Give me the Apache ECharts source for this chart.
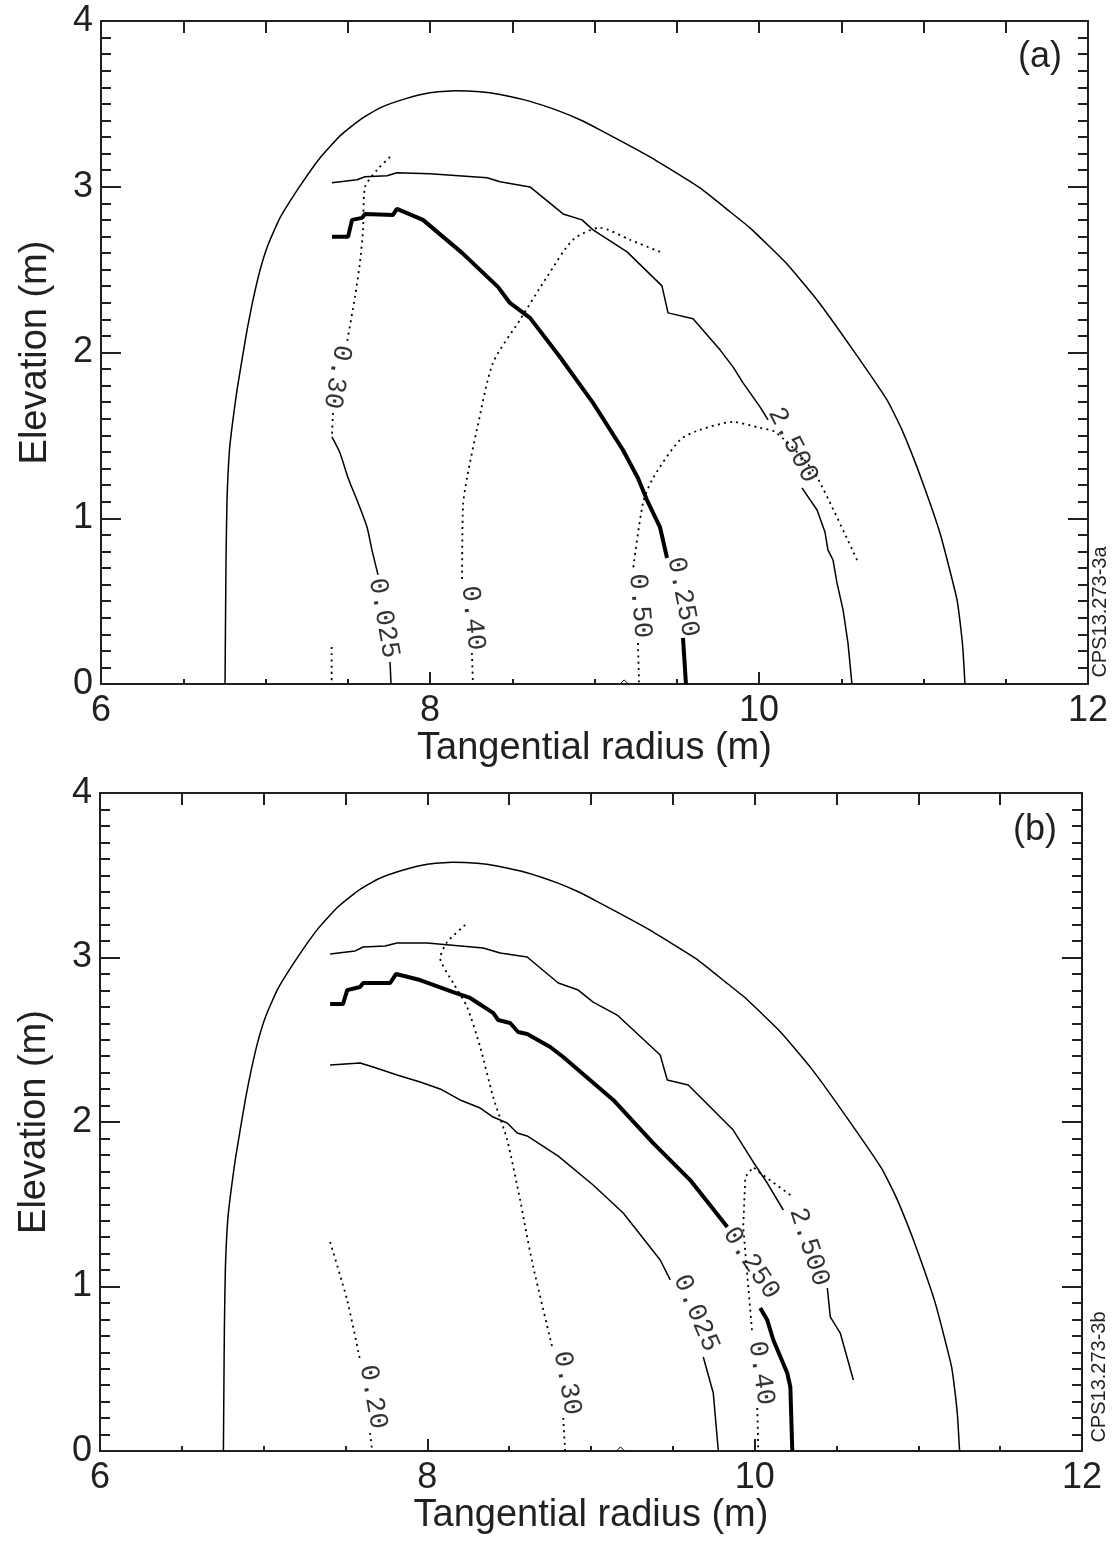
<!DOCTYPE html>
<html>
<head>
<meta charset="utf-8">
<script src="https://cdn.jsdelivr.net/npm/echarts@6/dist/echarts.min.js"></script>
<style>
  html, body { margin: 0; padding: 0; background: #fff; }
  #chart { width: 1120px; height: 1551px; }
</style>
</head>
<body>
<div id="chart"></div>
<script>
// axis ticks
const xTicks = [6, 8, 10, 12]
const yTicks = [0, 1, 2, 3, 4]

// outer envelope (same in both panels)
const envelope = [[6.754, 0], [6.757, 0.386], [6.760, 0.748], [6.766, 1.110], [6.781, 1.412], [6.802, 1.593],
  [6.827, 1.774], [6.857, 1.955], [6.888, 2.136], [6.924, 2.317], [6.967, 2.498], [7.015, 2.649], [7.088, 2.812],
  [7.210, 3.005], [7.331, 3.174], [7.453, 3.307], [7.574, 3.404], [7.696, 3.476], [7.848, 3.530], [8.000, 3.567],
  [8.152, 3.579], [8.304, 3.573], [8.426, 3.556], [8.608, 3.515], [8.790, 3.455], [8.912, 3.404], [9.033, 3.343],
  [9.337, 3.180], [9.641, 2.993], [9.824, 2.849], [9.945, 2.752], [10.158, 2.547], [10.353, 2.317], [10.571, 2.016],
  [10.778, 1.714], [10.869, 1.533], [10.960, 1.310], [11.033, 1.110], [11.100, 0.911], [11.155, 0.706],
  [11.204, 0.507], [11.228, 0.326], [11.240, 0.205], [11.252, 0]]

// panel (a) contours; null = break where the contour label sits
const a2500 = [[7.404, 3.024], [7.556, 3.042], [7.605, 3.060], [7.739, 3.066], [7.799, 3.084], [8.000, 3.078],
  [8.347, 3.054], [8.426, 3.030], [8.608, 2.999], [8.809, 2.836], [8.924, 2.800], [8.991, 2.740], [9.198, 2.607],
  [9.410, 2.402], [9.447, 2.239], [9.599, 2.203], [9.763, 2.016], [9.842, 1.913], [9.903, 1.817], [10.006, 1.672],
  [10.055, 1.593], null, [10.261, 1.183], [10.353, 1.050], [10.401, 0.917], [10.419, 0.809], [10.450, 0.748],
  [10.474, 0.610], [10.511, 0.447], [10.541, 0.247], [10.565, 0]]
const a0250 = [[7.404, 2.698], [7.502, 2.698], [7.526, 2.800], [7.587, 2.812], [7.605, 2.836], [7.775, 2.830],
  [7.799, 2.867], [7.957, 2.800], [8.195, 2.601], [8.413, 2.396], [8.486, 2.299], [8.608, 2.209], [8.790, 1.973],
  [8.991, 1.696], [9.173, 1.412], [9.264, 1.243], [9.319, 1.110], [9.398, 0.947], [9.441, 0.760], null,
  [9.538, 0.278], [9.556, 0]]
const a0025 = [[7.404, 1.491], [7.453, 1.394], [7.502, 1.243], [7.556, 1.110], [7.617, 0.947], [7.647, 0.809],
  [7.684, 0.658], null, [7.757, 0.133], [7.763, 0]]
const a030 = [[7.757, 3.180], [7.678, 3.102], [7.605, 2.999], [7.593, 2.740], [7.574, 2.541], [7.544, 2.336],
  [7.495, 2.058], null, [7.410, 1.635], [7.404, 1.503], null, [7.402, 0.223], [7.402, 0]]
const a040 = [[9.398, 2.607], [9.216, 2.680], [9.033, 2.752], [8.869, 2.680], [8.711, 2.456], [8.547, 2.197],
  [8.383, 1.937], [8.286, 1.539], [8.225, 1.243], [8.201, 1.080], [8.195, 0.628], null, [8.255, 0.187], [8.261, 0]]
const a050 = [[10.596, 0.748], [10.353, 1.249], [10.249, 1.382], [10.097, 1.521], [10.006, 1.545], [9.842, 1.581],
  [9.641, 1.533], [9.520, 1.473], [9.356, 1.243], [9.295, 1.092], [9.234, 0.688], null, [9.264, 0.247], [9.271, 0]]
const aNotch = [[9.155, 0], [9.180, 0.025], [9.205, 0]]
const aLabels = [[7.435, 1.853, '0.30'], [7.720, 0.398, '0.025'], [8.261, 0.398, '0.40'],
  [9.277, 0.471, '0.50'], [9.538, 0.525, '0.250'], [10.207, 1.442, '2.500']]
const aLabelTilt = [-100, -80, -84, -85, -79, -63]

// panel (b) contours
const b2500 = [[7.406, 3.021], [7.559, 3.040], [7.608, 3.064], [7.742, 3.070], [7.815, 3.088], [7.999, 3.088],
  [8.341, 3.058], [8.445, 3.027], [8.610, 3.003], [8.800, 2.845], [8.922, 2.802], [9.013, 2.729], [9.160, 2.650],
  [9.423, 2.407], [9.466, 2.255], [9.594, 2.225], [9.686, 2.134], [9.869, 1.951], [9.991, 1.757], [10.077, 1.629],
  [10.175, 1.465], null, [10.444, 0.991], [10.462, 0.815], [10.523, 0.717], [10.603, 0.432]]
const b0250 = [[7.406, 2.717], [7.485, 2.717], [7.510, 2.802], [7.589, 2.821], [7.608, 2.845], [7.773, 2.845],
  [7.809, 2.900], [7.956, 2.863], [8.158, 2.790], [8.262, 2.754], [8.402, 2.663], [8.433, 2.620], [8.506, 2.602],
  [8.555, 2.547], [8.610, 2.535], [8.751, 2.456], [8.830, 2.395], [9.136, 2.134], [9.380, 1.872], [9.606, 1.647],
  [9.833, 1.362], null, [10.034, 0.869], [10.077, 0.796], [10.114, 0.675], [10.199, 0.474], [10.218, 0.389], [10.230, 0]]
const b0025 = [[7.406, 2.347], [7.589, 2.359], [7.669, 2.334], [7.815, 2.286], [7.956, 2.243], [8.078, 2.201],
  [8.200, 2.134], [8.323, 2.085], [8.402, 2.030], [8.488, 1.994], [8.549, 1.933], [8.610, 1.915], [8.800, 1.793],
  [9.013, 1.617], [9.197, 1.447], [9.423, 1.161], [9.484, 1.040], null, [9.686, 0.571], [9.747, 0.353], [9.778, 0]]
const b030 = [[8.231, 3.198], [8.121, 3.094], [8.078, 2.997], [8.158, 2.845], [8.243, 2.699], [8.323, 2.456],
  [8.402, 2.152], [8.488, 1.891], [8.567, 1.526], [8.598, 1.362], [8.647, 1.119], [8.763, 0.632], null,
  [8.830, 0.201], [8.842, 0]]
const b020 = [[7.406, 1.271], [7.510, 0.918], [7.589, 0.553], null, [7.650, 0.109], [7.663, 0]]
const b040 = [[10.218, 1.556], [10.034, 1.690], [9.991, 1.726], [9.943, 1.666], [9.930, 1.362], [9.961, 0.997],
  [9.985, 0.717], null, [10.016, 0.261], [10.022, 0]]
const bNotch = [[9.155, 0], [9.180, 0.025], [9.205, 0]]
const bLabels = [[7.669, 0.328, '0.20'], [8.855, 0.413, '0.30'], [9.643, 0.839, '0.025'],
  [9.979, 1.143, '0.250'], [10.040, 0.474, '0.40'], [10.334, 1.240, '2.500']]
const bLabelTilt = [-80, -80, -67, -56, -82, -72]

const AX = '#231f20'
const FONT = 'Liberation Sans'
const THIN = { color: '#000', width: 1.5 }
const THICK = { color: '#000', width: 4 }
const DOT = { color: '#000', width: 1.8, type: [2, 4.2] }

// split a point list on null into separate polylines
function segments(pts) {
  const out = [[]]
  pts.forEach((p) => { if (p === null) out.push([]); else out[out.length - 1].push(p) })
  return out.filter((s) => s.length > 1)
}

const chart = echarts.init(document.getElementById('chart'))

const grids = [
  { left: 101, top: 21, width: 987, height: 663 },
  { left: 100, top: 793, width: 982, height: 658 },
]

const xAxis = []
const yAxis = []
const series = []

grids.forEach((g, i) => {
  const line = { show: true, onZero: false, lineStyle: { color: AX, width: 2 } }
  xAxis.push({
    gridIndex: i, type: 'value', position: 'bottom',
    min: xTicks[0], max: xTicks[xTicks.length - 1], interval: xTicks[1] - xTicks[0],
    axisLine: line,
    axisTick: { show: true, inside: true, length: 12, lineStyle: { color: AX, width: 2 } },
    minorTick: { show: true, splitNumber: 4, length: 5, lineStyle: { color: AX, width: 2 } },
    splitLine: { show: false },
    axisLabel: { color: AX, fontSize: 36, fontFamily: FONT, margin: 9 },
    name: 'Tangential radius (m)', nameLocation: 'middle', nameGap: 44,
    nameTextStyle: { color: AX, fontSize: 38, fontFamily: FONT },
  })
  xAxis.push({
    gridIndex: i, type: 'value', position: 'top',
    min: xTicks[0], max: xTicks[xTicks.length - 1], interval: 0.5,
    axisLine: line,
    axisTick: { show: true, inside: true, length: 12, lineStyle: { color: AX, width: 2 } },
    splitLine: { show: false },
    axisLabel: { show: false },
  })
  yAxis.push({
    gridIndex: i, type: 'value', position: 'left',
    min: yTicks[0], max: yTicks[yTicks.length - 1], interval: yTicks[1] - yTicks[0],
    axisLine: line,
    axisTick: { show: true, inside: true, length: 20, lineStyle: { color: AX, width: 2 } },
    minorTick: { show: true, splitNumber: 10, length: 10, lineStyle: { color: AX, width: 2 } },
    splitLine: { show: false },
    axisLabel: { color: AX, fontSize: 36, fontFamily: FONT, margin: 8 },
    name: 'Elevation (m)', nameLocation: 'middle', nameGap: 46, nameRotate: 90,
    nameTextStyle: { color: AX, fontSize: 38, fontFamily: FONT },
  })
  yAxis.push({
    gridIndex: i, type: 'value', position: 'right',
    min: yTicks[0], max: yTicks[yTicks.length - 1], interval: yTicks[1] - yTicks[0],
    axisLine: line,
    axisTick: { show: true, inside: true, length: 20, lineStyle: { color: AX, width: 2 } },
    minorTick: { show: true, splitNumber: 10, length: 10, lineStyle: { color: AX, width: 2 } },
    splitLine: { show: false },
    axisLabel: { show: false },
  })
})

function addLine(panel, pts, style, smooth) {
  segments(pts).forEach((seg) => {
    series.push({
      type: 'line', xAxisIndex: panel * 2, yAxisIndex: panel * 2,
      data: seg, showSymbol: false, symbol: 'none', smooth: smooth || false,
      lineStyle: style, silent: true, animation: false, z: style === THICK ? 3 : 2,
    })
  })
}

function addLabels(panel, labels, tilt) {
  series.push({
    type: 'scatter', xAxisIndex: panel * 2, yAxisIndex: panel * 2,
    symbolSize: 0, silent: true, animation: false, z: 4,
    data: labels.map((l, k) => ({
      value: [l[0], l[1]],
      label: {
        show: true, position: 'inside', formatter: l[2], rotate: tilt[k],
        color: '#000', fontSize: 27, fontFamily: 'Liberation Mono',
      },
    })),
  })
}

addLine(0, envelope, THIN, 0.15)
addLine(0, a2500, THIN)
addLine(0, a0250, THICK)
addLine(0, a0025, THIN, 0.2)
addLine(0, a030, DOT, 0.2)
addLine(0, a040, DOT, 0.25)
addLine(0, a050, DOT, 0.25)
addLine(0, aNotch, { color: '#000', width: 1 })
addLabels(0, aLabels, aLabelTilt)

addLine(1, envelope, THIN, 0.15)
addLine(1, b2500, THIN)
addLine(1, b0250, THICK)
addLine(1, b0025, THIN)
addLine(1, b030, DOT, 0.2)
addLine(1, b020, DOT, 0.2)
addLine(1, b040, DOT)
addLine(1, bNotch, { color: '#000', width: 1 })
addLabels(1, bLabels, bLabelTilt)

chart.setOption({
  backgroundColor: '#fff',
  animation: false,
  grid: grids.map((g) => Object.assign({ containLabel: false, outerBoundsMode: 'none' }, g)),
  xAxis,
  yAxis,
  series,
  graphic: [
    { type: 'text', x: 1062, y: 57, style: { text: '(a)', font: '36px ' + FONT, fill: AX, textAlign: 'right', textVerticalAlign: 'middle' } },
    { type: 'text', x: 1057, y: 830, style: { text: '(b)', font: '36px ' + FONT, fill: AX, textAlign: 'right', textVerticalAlign: 'middle' } },
    { type: 'text', x: 1100, y: 612, rotation: Math.PI / 2, style: { text: 'CPS13.273-3a', font: '20px ' + FONT, fill: AX, textAlign: 'center', textVerticalAlign: 'middle' } },
    { type: 'text', x: 1099, y: 1377, rotation: Math.PI / 2, style: { text: 'CPS13.273-3b', font: '20px ' + FONT, fill: AX, textAlign: 'center', textVerticalAlign: 'middle' } },
  ],
})
</script>
</body>
</html>
